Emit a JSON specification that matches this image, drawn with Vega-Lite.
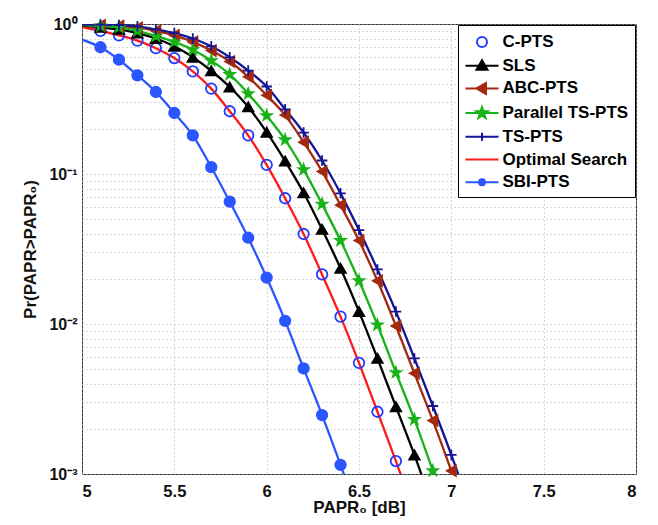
{
  "$schema": "https://vega.github.io/schema/vega-lite/v6.json",
  "width": 554,
  "height": 450,
  "autosize": {"type": "none"},
  "padding": {"left": 82, "top": 24, "right": 22, "bottom": 51},
  "background": "white",
  "config": {
    "view": {"stroke": "#333", "strokeWidth": 1},
    "font": "Liberation Sans"
  },
  "datasets": {
    "pts": [
      {"s": "C-PTS", "x": 5.0, "y": 0.955}, {"s": "C-PTS", "x": 5.1, "y": 0.9}, {"s": "C-PTS", "x": 5.2, "y": 0.84}, {"s": "C-PTS", "x": 5.3, "y": 0.774}, {"s": "C-PTS", "x": 5.4, "y": 0.69}, {"s": "C-PTS", "x": 5.5, "y": 0.593}, {"s": "C-PTS", "x": 5.6, "y": 0.483}, {"s": "C-PTS", "x": 5.7, "y": 0.371}, {"s": "C-PTS", "x": 5.8, "y": 0.262}, {"s": "C-PTS", "x": 5.9, "y": 0.181}, {"s": "C-PTS", "x": 6.0, "y": 0.115}, {"s": "C-PTS", "x": 6.1, "y": 0.0689}, {"s": "C-PTS", "x": 6.2, "y": 0.0398}, {"s": "C-PTS", "x": 6.3, "y": 0.0214}, {"s": "C-PTS", "x": 6.4, "y": 0.0112}, {"s": "C-PTS", "x": 6.5, "y": 0.0055}, {"s": "C-PTS", "x": 6.6, "y": 0.0026}, {"s": "C-PTS", "x": 6.7, "y": 0.00122},
      {"s": "Optimal Search", "x": 5.0, "y": 0.955}, {"s": "Optimal Search", "x": 5.1, "y": 0.9}, {"s": "Optimal Search", "x": 5.2, "y": 0.84}, {"s": "Optimal Search", "x": 5.3, "y": 0.774}, {"s": "Optimal Search", "x": 5.4, "y": 0.69}, {"s": "Optimal Search", "x": 5.5, "y": 0.593}, {"s": "Optimal Search", "x": 5.6, "y": 0.483}, {"s": "Optimal Search", "x": 5.7, "y": 0.371}, {"s": "Optimal Search", "x": 5.8, "y": 0.262}, {"s": "Optimal Search", "x": 5.9, "y": 0.181}, {"s": "Optimal Search", "x": 6.0, "y": 0.115}, {"s": "Optimal Search", "x": 6.1, "y": 0.0689}, {"s": "Optimal Search", "x": 6.2, "y": 0.0398}, {"s": "Optimal Search", "x": 6.3, "y": 0.0214}, {"s": "Optimal Search", "x": 6.4, "y": 0.0112}, {"s": "Optimal Search", "x": 6.5, "y": 0.0055}, {"s": "Optimal Search", "x": 6.6, "y": 0.0026}, {"s": "Optimal Search", "x": 6.7, "y": 0.00122}, {"s": "Optimal Search", "x": 6.8, "y": 0.00055},
      {"s": "SLS", "x": 5.0, "y": 0.975}, {"s": "SLS", "x": 5.1, "y": 0.95}, {"s": "SLS", "x": 5.2, "y": 0.92}, {"s": "SLS", "x": 5.3, "y": 0.87}, {"s": "SLS", "x": 5.4, "y": 0.8}, {"s": "SLS", "x": 5.5, "y": 0.71}, {"s": "SLS", "x": 5.6, "y": 0.6}, {"s": "SLS", "x": 5.7, "y": 0.488}, {"s": "SLS", "x": 5.8, "y": 0.38}, {"s": "SLS", "x": 5.9, "y": 0.28}, {"s": "SLS", "x": 6.0, "y": 0.19}, {"s": "SLS", "x": 6.1, "y": 0.122}, {"s": "SLS", "x": 6.2, "y": 0.075}, {"s": "SLS", "x": 6.3, "y": 0.0428}, {"s": "SLS", "x": 6.4, "y": 0.0235}, {"s": "SLS", "x": 6.5, "y": 0.0121}, {"s": "SLS", "x": 6.6, "y": 0.0059}, {"s": "SLS", "x": 6.7, "y": 0.00281}, {"s": "SLS", "x": 6.8, "y": 0.00134}, {"s": "SLS", "x": 6.9, "y": 0.0006},
      {"s": "ABC-PTS", "x": 5.0, "y": 0.99}, {"s": "ABC-PTS", "x": 5.1, "y": 0.98}, {"s": "ABC-PTS", "x": 5.2, "y": 0.97}, {"s": "ABC-PTS", "x": 5.3, "y": 0.945}, {"s": "ABC-PTS", "x": 5.4, "y": 0.9}, {"s": "ABC-PTS", "x": 5.5, "y": 0.84}, {"s": "ABC-PTS", "x": 5.6, "y": 0.76}, {"s": "ABC-PTS", "x": 5.7, "y": 0.665}, {"s": "ABC-PTS", "x": 5.8, "y": 0.562}, {"s": "ABC-PTS", "x": 5.9, "y": 0.445}, {"s": "ABC-PTS", "x": 6.0, "y": 0.335}, {"s": "ABC-PTS", "x": 6.1, "y": 0.247}, {"s": "ABC-PTS", "x": 6.2, "y": 0.163}, {"s": "ABC-PTS", "x": 6.3, "y": 0.104}, {"s": "ABC-PTS", "x": 6.4, "y": 0.062}, {"s": "ABC-PTS", "x": 6.5, "y": 0.036}, {"s": "ABC-PTS", "x": 6.6, "y": 0.0194}, {"s": "ABC-PTS", "x": 6.7, "y": 0.0097}, {"s": "ABC-PTS", "x": 6.8, "y": 0.00469}, {"s": "ABC-PTS", "x": 6.9, "y": 0.00227}, {"s": "ABC-PTS", "x": 7.0, "y": 0.00105}, {"s": "ABC-PTS", "x": 7.1, "y": 0.00047},
      {"s": "Parallel TS-PTS", "x": 5.0, "y": 0.985}, {"s": "Parallel TS-PTS", "x": 5.1, "y": 0.97}, {"s": "Parallel TS-PTS", "x": 5.2, "y": 0.95}, {"s": "Parallel TS-PTS", "x": 5.3, "y": 0.9}, {"s": "Parallel TS-PTS", "x": 5.4, "y": 0.83}, {"s": "Parallel TS-PTS", "x": 5.5, "y": 0.76}, {"s": "Parallel TS-PTS", "x": 5.6, "y": 0.674}, {"s": "Parallel TS-PTS", "x": 5.7, "y": 0.57}, {"s": "Parallel TS-PTS", "x": 5.8, "y": 0.461}, {"s": "Parallel TS-PTS", "x": 5.9, "y": 0.343}, {"s": "Parallel TS-PTS", "x": 6.0, "y": 0.245}, {"s": "Parallel TS-PTS", "x": 6.1, "y": 0.169}, {"s": "Parallel TS-PTS", "x": 6.2, "y": 0.107}, {"s": "Parallel TS-PTS", "x": 6.3, "y": 0.063}, {"s": "Parallel TS-PTS", "x": 6.4, "y": 0.036}, {"s": "Parallel TS-PTS", "x": 6.5, "y": 0.0194}, {"s": "Parallel TS-PTS", "x": 6.6, "y": 0.00985}, {"s": "Parallel TS-PTS", "x": 6.7, "y": 0.00474}, {"s": "Parallel TS-PTS", "x": 6.8, "y": 0.00231}, {"s": "Parallel TS-PTS", "x": 6.9, "y": 0.00105}, {"s": "Parallel TS-PTS", "x": 7.0, "y": 0.00048},
      {"s": "TS-PTS", "x": 5.0, "y": 0.995}, {"s": "TS-PTS", "x": 5.1, "y": 0.99}, {"s": "TS-PTS", "x": 5.2, "y": 0.985}, {"s": "TS-PTS", "x": 5.3, "y": 0.965}, {"s": "TS-PTS", "x": 5.4, "y": 0.92}, {"s": "TS-PTS", "x": 5.5, "y": 0.87}, {"s": "TS-PTS", "x": 5.6, "y": 0.8}, {"s": "TS-PTS", "x": 5.7, "y": 0.71}, {"s": "TS-PTS", "x": 5.8, "y": 0.6}, {"s": "TS-PTS", "x": 5.9, "y": 0.489}, {"s": "TS-PTS", "x": 6.0, "y": 0.383}, {"s": "TS-PTS", "x": 6.1, "y": 0.27}, {"s": "TS-PTS", "x": 6.2, "y": 0.189}, {"s": "TS-PTS", "x": 6.3, "y": 0.123}, {"s": "TS-PTS", "x": 6.4, "y": 0.0743}, {"s": "TS-PTS", "x": 6.5, "y": 0.0423}, {"s": "TS-PTS", "x": 6.6, "y": 0.0231}, {"s": "TS-PTS", "x": 6.7, "y": 0.0121}, {"s": "TS-PTS", "x": 6.8, "y": 0.0059}, {"s": "TS-PTS", "x": 6.9, "y": 0.00284}, {"s": "TS-PTS", "x": 7.0, "y": 0.00134}, {"s": "TS-PTS", "x": 7.1, "y": 0.0006},
      {"s": "SBI-PTS", "x": 5.0, "y": 0.786}, {"s": "SBI-PTS", "x": 5.1, "y": 0.7}, {"s": "SBI-PTS", "x": 5.2, "y": 0.578}, {"s": "SBI-PTS", "x": 5.3, "y": 0.455}, {"s": "SBI-PTS", "x": 5.4, "y": 0.352}, {"s": "SBI-PTS", "x": 5.5, "y": 0.255}, {"s": "SBI-PTS", "x": 5.6, "y": 0.181}, {"s": "SBI-PTS", "x": 5.7, "y": 0.111}, {"s": "SBI-PTS", "x": 5.8, "y": 0.0654}, {"s": "SBI-PTS", "x": 5.9, "y": 0.0376}, {"s": "SBI-PTS", "x": 6.0, "y": 0.0204}, {"s": "SBI-PTS", "x": 6.1, "y": 0.0105}, {"s": "SBI-PTS", "x": 6.2, "y": 0.00506}, {"s": "SBI-PTS", "x": 6.3, "y": 0.00247}, {"s": "SBI-PTS", "x": 6.4, "y": 0.00115}, {"s": "SBI-PTS", "x": 6.5, "y": 0.00052}
    ]
  },
  "data": {"name": "pts"},
  "encoding": {
    "x": {
      "field": "x", "type": "quantitative",
      "scale": {"domain": [5, 8], "nice": false, "zero": false},
      "axis": {
        "values": [5, 5.5, 6, 6.5, 7, 7.5, 8], "format": "~g",
        "grid": true, "gridDash": [1, 3], "gridColor": "#b0b0b0", "gridWidth": 1,
        "ticks": false, "domain": false,
        "labelFont": "Liberation Sans", "labelFontSize": 16.5, "labelFontWeight": "bold", "labelColor": "#111", "labelPadding": 9,
        "title": "PAPR₀ [dB]", "titleFont": "Liberation Sans", "titleFontSize": 17, "titleFontWeight": "bold", "titleColor": "#111", "titlePadding": 0
      }
    },
    "y": {
      "field": "y", "type": "quantitative",
      "scale": {"type": "log", "domain": [0.001, 1], "nice": false},
      "axis": {
        "values": [0.001, 0.002, 0.003, 0.004, 0.005, 0.006, 0.007, 0.008, 0.009, 0.01, 0.02, 0.03, 0.04, 0.05, 0.06, 0.07, 0.08, 0.09, 0.1, 0.2, 0.3, 0.4, 0.5, 0.6, 0.7, 0.8, 0.9, 1],
        "labelExpr": "datum.value === 1 ? '10⁰' : datum.value === 0.1 ? '10⁻¹' : datum.value === 0.01 ? '10⁻²' : datum.value === 0.001 ? '10⁻³' : ''",
        "grid": true, "gridDash": [1, 3], "gridColor": "#b0b0b0", "gridWidth": 1,
        "ticks": false, "domain": false,
        "labelFont": "Liberation Sans", "labelFontSize": 16, "labelFontWeight": "bold", "labelColor": "#111", "labelPadding": 5,
        "title": "Pr(PAPR>PAPR₀)", "titleFont": "Liberation Sans", "titleFontSize": 17, "titleFontWeight": "bold", "titleColor": "#111", "titlePadding": 9
      }
    }
  },
  "layer": [
    {
      "transform": [{"filter": "datum.s !== 'C-PTS'"}],
      "mark": {"type": "line", "interpolate": "monotone", "strokeWidth": 2.3, "clip": true},
      "encoding": {
        "stroke": {
          "field": "s", "type": "nominal", "legend": null,
          "scale": {
            "domain": ["C-PTS", "SLS", "ABC-PTS", "Parallel TS-PTS", "TS-PTS", "Optimal Search", "SBI-PTS"],
            "range": ["#1f3cff", "#000000", "#a3290f", "#19b319", "#141496", "#ff1a1a", "#2b55ff"]
          }
        }
      }
    },
    {
      "transform": [{"filter": "datum.s !== 'Optimal Search' && datum.x > 5.05 && datum.y >= 0.001"}],
      "mark": {"type": "point", "filled": true, "opacity": 1, "strokeWidth": 1.8},
      "encoding": {
        "stroke": {
          "field": "s", "type": "nominal", "legend": null,
          "scale": {
            "domain": ["C-PTS", "SLS", "ABC-PTS", "Parallel TS-PTS", "TS-PTS", "Optimal Search", "SBI-PTS"],
            "range": ["#1f3cff", "#000000", "#a3290f", "#19b319", "#141496", "#ff1a1a", "#2b55ff"]
          }
        },
        "fill": {
          "field": "s", "type": "nominal", "legend": null,
          "scale": {
            "domain": ["C-PTS", "SLS", "ABC-PTS", "Parallel TS-PTS", "TS-PTS", "Optimal Search", "SBI-PTS"],
            "range": ["transparent", "#000000", "#a3290f", "#19b319", "#141496", "#ff1a1a", "#2b55ff"]
          }
        },
        "shape": {
          "field": "s", "type": "nominal", "legend": null,
          "scale": {
            "domain": ["C-PTS", "SLS", "ABC-PTS", "Parallel TS-PTS", "TS-PTS", "Optimal Search", "SBI-PTS"],
            "range": ["circle", "triangle-up", "triangle-left", "M0,-1L0.235,-0.324L0.951,-0.309L0.38,0.124L0.588,0.809L0,0.4L-0.588,0.809L-0.38,0.124L-0.951,-0.309L-0.235,-0.324Z", "M-1,0H1M0,-1V1", "circle", "circle"]
          }
        },
        "size": {
          "field": "s", "type": "nominal", "legend": null,
          "scale": {
            "domain": ["C-PTS", "SLS", "ABC-PTS", "Parallel TS-PTS", "TS-PTS", "Optimal Search", "SBI-PTS"],
            "range": [110, 110, 110, 150, 64, 0, 36]
          }
        }
      }
    },
    {
      "mark": {"type": "point", "filled": true, "opacity": 0, "strokeWidth": 2},
      "encoding": {
        "stroke": {
          "field": "s", "type": "nominal",
          "scale": {
            "domain": ["C-PTS", "SLS", "ABC-PTS", "Parallel TS-PTS", "TS-PTS", "Optimal Search", "SBI-PTS"],
            "range": ["#1f3cff", "#000000", "#a3290f", "#19b319", "#141496", "#ff1a1a", "#2b55ff"]
          },
          "legend": {"title": null}
        },
        "fill": {
          "field": "s", "type": "nominal",
          "scale": {
            "domain": ["C-PTS", "SLS", "ABC-PTS", "Parallel TS-PTS", "TS-PTS", "Optimal Search", "SBI-PTS"],
            "range": ["transparent", "#000000", "#a3290f", "#19b319", "#141496", "#ff1a1a", "#2b55ff"]
          },
          "legend": {"title": null}
        },
        "shape": {
          "field": "s", "type": "nominal",
          "scale": {
            "domain": ["C-PTS", "SLS", "ABC-PTS", "Parallel TS-PTS", "TS-PTS", "Optimal Search", "SBI-PTS"],
            "range": [
              "M-0.5,0A0.5,0.5,0,1,0,0.5,0A0.5,0.5,0,1,0,-0.5,0Z",
              "M-1.65,0H1.65M0,-0.55L0.55,0.4L-0.55,0.4Z",
              "M-1.65,0H1.65M-0.55,0L0.4,-0.55L0.4,0.55Z",
              "M-1.65,0H1.65M0,-0.6L0.141,-0.194L0.571,-0.185L0.228,0.074L0.353,0.485L0,0.24L-0.353,0.485L-0.228,0.074L-0.571,-0.185L-0.141,-0.194Z",
              "M-1.65,0H1.65M0,-0.4V0.4",
              "M-1.65,0H1.65",
              "M-1.65,0H1.65M-0.3,0A0.3,0.3,0,1,0,0.3,0A0.3,0.3,0,1,0,-0.3,0Z"
            ]
          },
          "legend": {
            "title": null, "orient": "top-right", "offset": 1,
            "strokeColor": "#000", "fillColor": "#fff", "padding": 6,
            "symbolSize": 400, "symbolStrokeWidth": 2, "symbolOpacity": 1, "symbolOffset": 7,
            "labelFont": "Liberation Sans", "labelFontSize": 17, "labelFontWeight": "bold", "labelColor": "#000",
            "labelOffset": 9.5, "labelLimit": 300, "rowPadding": 3.7
          }
        }
      }
    }
  ],
  "resolve": {"scale": {"stroke": "independent", "fill": "independent", "shape": "independent", "size": "independent"}}
}
